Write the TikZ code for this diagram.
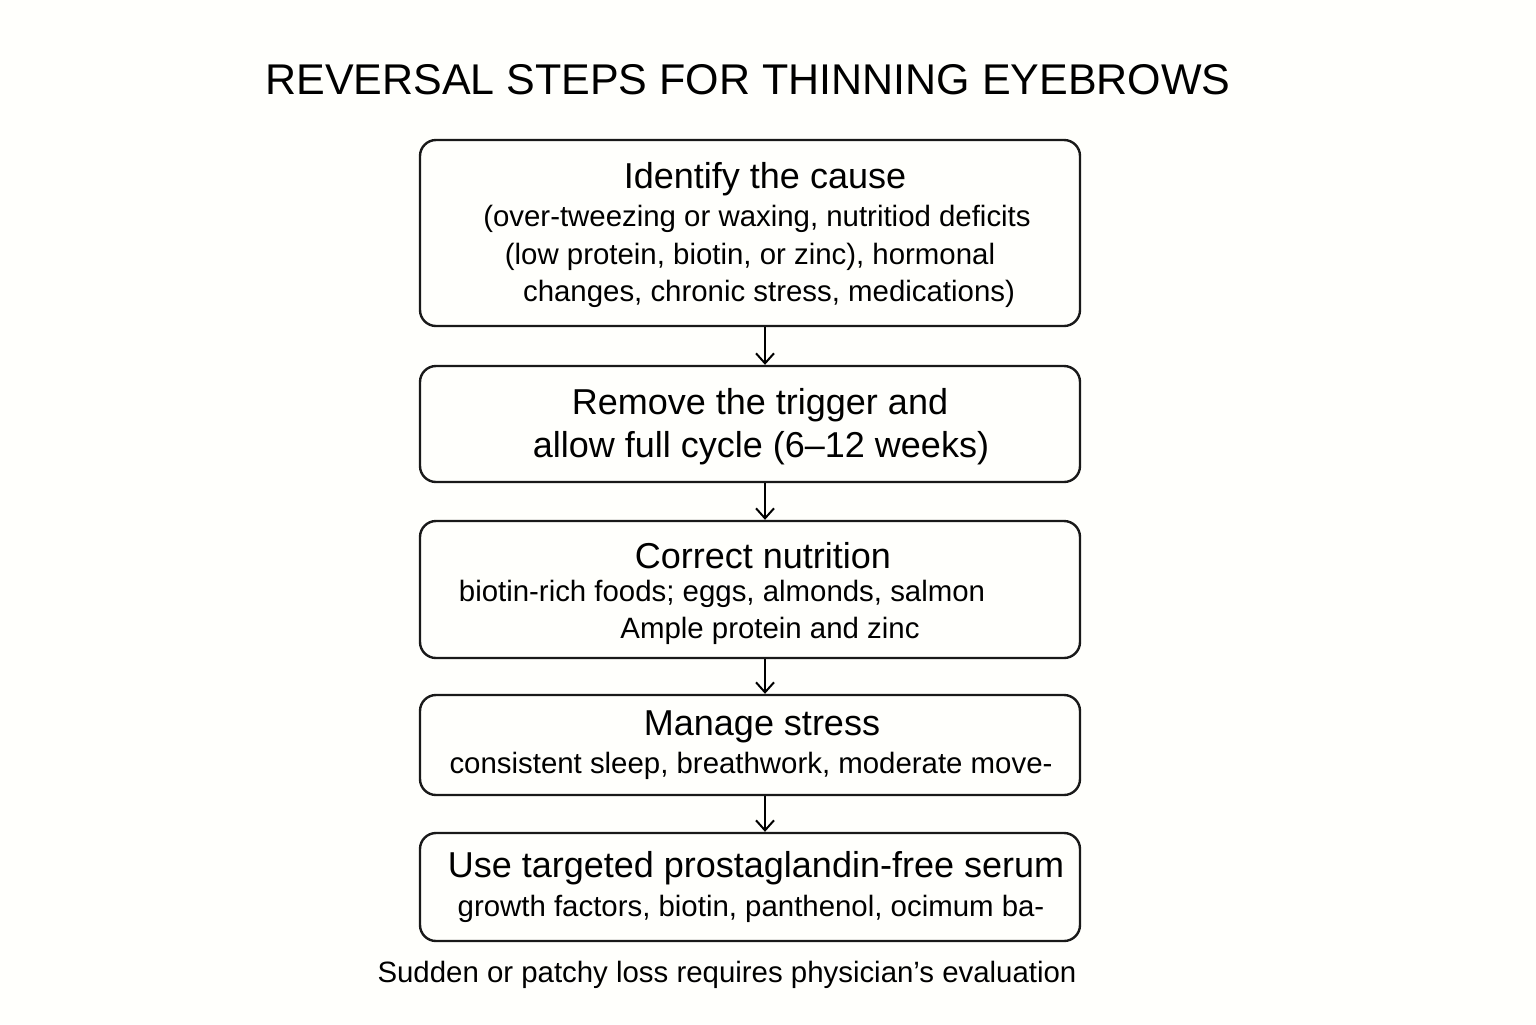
\documentclass[tikz,border=0pt]{standalone}
\usepackage{fontspec}
\setmainfont{Liberation Sans}
\usetikzlibrary{arrows.meta}
\begin{document}
\begin{tikzpicture}[x=0.5pt,y=-0.5pt,
 box/.style={draw=black!90,line width=1.2pt,rounded corners=8pt,inner sep=0pt},
 head/.style={font=\fontsize{18}{21}\selectfont,inner sep=0pt},
 body/.style={font=\fontsize{14.7}{18}\selectfont,inner sep=0pt},
 arr/.style={line width=1pt,-{Straight Barb[length=5pt,width=9pt]}}]
\useasboundingbox[fill=white!99!yellow] (0,0) rectangle (1536,1024);
\node[font=\fontsize{21.5}{26}\selectfont,inner sep=0pt] (title) at (748,80) {REVERSAL STEPS FOR THINNING EYEBROWS};
\node[box,minimum width=330pt,minimum height=93pt] (b1) at (750,233) {};
\node[box,minimum width=330pt,minimum height=58pt] (b2) at (750,424) {};
\node[box,minimum width=330pt,minimum height=68.5pt] (b3) at (750,589.5) {};
\node[box,minimum width=330pt,minimum height=50pt] (b4) at (750,745) {};
\node[box,minimum width=330pt,minimum height=54pt] (b5) at (750,887) {};
\node[head] (t1) at (765,179) {Identify the cause};
\node[body] (t1a) at (757,219) {(over-tweezing or waxing, nutritiod deficits};
\node[body] (t1b) at (750,257) {(low protein, biotin, or zinc), hormonal};
\node[body] (t1c) at (769,294) {changes, chronic stress, medications)};
\node[head] (t2) at (760,405) {Remove the trigger and};
\node[head] (t2b) at (761,448) {allow full cycle (6–12 weeks)};
\node[head] (t3) at (763,556) {Correct nutrition};
\node[body] (t3a) at (722,594) {biotin-rich foods; eggs, almonds, salmon};
\node[body] (t3b) at (770,631) {Ample protein and zinc};
\node[head] (t4) at (762,727) {Manage stress};
\node[body] (t4a) at (751,766) {consistent sleep, breathwork, moderate move-};
\node[head] (t5) at (756,868) {Use targeted prostaglandin-free serum};
\node[body] (t5a) at (751,909) {growth factors, biotin, panthenol, ocimum ba-};
\node[body] (foot) at (727,975) {Sudden or patchy loss requires physician’s evaluation};
\coordinate (ax) at (765,0);
\draw[arr] (b1.south -| ax) -- (b2.north -| ax);
\draw[arr] (b2.south -| ax) -- (b3.north -| ax);
\draw[arr] (b3.south -| ax) -- (b4.north -| ax);
\draw[arr] (b4.south -| ax) -- (b5.north -| ax);
\end{tikzpicture}
\end{document}
